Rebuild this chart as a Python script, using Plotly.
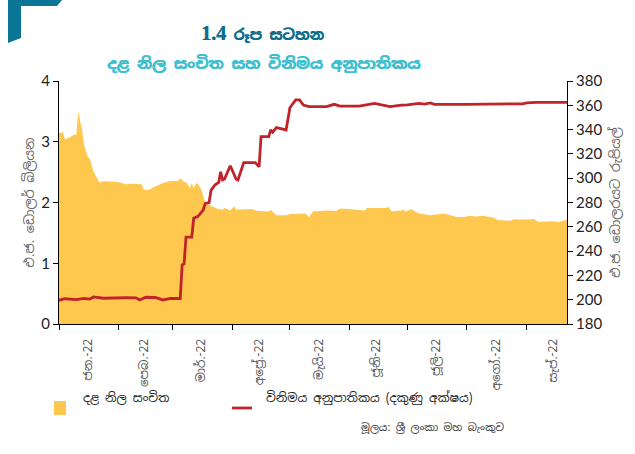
import plotly.graph_objects as go

# ---------------- data ----------------
reserve_dates = [
    "2022-01-01", "2022-01-03", "2022-01-04", "2022-01-07", "2022-01-09", "2022-01-10",
    "2022-01-11", "2022-01-13", "2022-01-14", "2022-01-16", "2022-01-17", "2022-01-19",
    "2022-01-20", "2022-01-22", "2022-01-24", "2022-01-27", "2022-01-31", "2022-02-05",
    "2022-02-08", "2022-02-13", "2022-02-14", "2022-02-17", "2022-02-19", "2022-02-24",
    "2022-02-27", "2022-03-04", "2022-03-05", "2022-03-06", "2022-03-07", "2022-03-08",
    "2022-03-10", "2022-03-11", "2022-03-12", "2022-03-13", "2022-03-14", "2022-03-16",
    "2022-03-17", "2022-03-18", "2022-03-20", "2022-03-22", "2022-03-24", "2022-03-27",
    "2022-03-28", "2022-03-31", "2022-04-02", "2022-04-03", "2022-04-07", "2022-04-12",
    "2022-04-14", "2022-04-20", "2022-04-21", "2022-04-24", "2022-04-29", "2022-05-01",
    "2022-05-09", "2022-05-11", "2022-05-13", "2022-05-17", "2022-05-20", "2022-05-25",
    "2022-05-27", "2022-06-02", "2022-06-09", "2022-06-10", "2022-06-20", "2022-06-21",
    "2022-06-23", "2022-06-28", "2022-06-29", "2022-06-30", "2022-07-03", "2022-07-07",
    "2022-07-09", "2022-07-13", "2022-07-20", "2022-07-27", "2022-07-31", "2022-08-02",
    "2022-08-06", "2022-08-09", "2022-08-15", "2022-08-17", "2022-08-24", "2022-08-25",
    "2022-08-31", "2022-09-05", "2022-09-07", "2022-09-14", "2022-09-18", "2022-09-22",
]
reserves = [
    3.14, 3.16, 3.04, 3.08, 3.12, 3.11,
    3.50, 3.19, 2.95, 2.75, 2.72, 2.51,
    2.45, 2.33, 2.35, 2.35, 2.34, 2.30,
    2.31, 2.30, 2.21, 2.21, 2.25, 2.32,
    2.35, 2.36, 2.40, 2.37, 2.33, 2.34,
    2.24, 2.32, 2.23, 2.30, 2.32, 2.21,
    2.10, 2.00, 1.96, 1.93, 1.90, 1.88,
    1.91, 1.87, 1.94, 1.88, 1.89, 1.89,
    1.86, 1.85, 1.88, 1.79, 1.79, 1.81,
    1.82, 1.76, 1.85, 1.86, 1.87, 1.86,
    1.90, 1.89, 1.87, 1.91, 1.91, 1.93,
    1.85, 1.87, 1.89, 1.85, 1.89, 1.82,
    1.81, 1.79, 1.82, 1.76, 1.76, 1.78,
    1.77, 1.78, 1.75, 1.71, 1.70, 1.72,
    1.72, 1.73, 1.68, 1.69, 1.68, 1.72,
]

rate_dates = [
    "2022-01-01", "2022-01-04", "2022-01-10", "2022-01-14", "2022-01-17", "2022-01-19",
    "2022-01-24", "2022-01-31", "2022-02-05", "2022-02-10", "2022-02-12", "2022-02-15",
    "2022-02-20", "2022-02-24", "2022-02-28", "2022-03-05", "2022-03-06", "2022-03-07",
    "2022-03-08", "2022-03-11", "2022-03-12", "2022-03-14", "2022-03-15", "2022-03-17",
    "2022-03-18", "2022-03-20", "2022-03-21", "2022-03-23", "2022-03-25", "2022-03-26",
    "2022-03-27", "2022-03-28", "2022-03-31", "2022-04-01", "2022-04-03", "2022-04-04",
    "2022-04-07", "2022-04-13", "2022-04-15", "2022-04-16", "2022-04-20", "2022-04-21",
    "2022-04-22", "2022-04-24", "2022-04-29", "2022-05-01", "2022-05-04", "2022-05-06",
    "2022-05-08", "2022-05-11", "2022-05-20", "2022-05-24", "2022-05-27", "2022-06-01",
    "2022-06-06", "2022-06-14", "2022-06-18", "2022-06-22", "2022-06-28", "2022-07-01",
    "2022-07-07", "2022-07-10", "2022-07-13", "2022-07-15", "2022-07-31", "2022-08-15",
    "2022-08-30", "2022-09-01", "2022-09-06", "2022-09-22",
]
rates = [
    199.5, 200.8, 200.0, 201.0, 200.5, 202.3,
    201.2, 201.6, 201.6, 201.5, 199.8, 202.0,
    201.8, 199.8, 201.0, 201.0, 228.6, 229.5,
    251.5, 251.6, 267.0, 268.5, 270.0, 274.0,
    279.3, 280.0, 290.0, 294.4, 296.5, 305.3,
    298.5, 299.3, 310.3, 306.7, 299.3, 298.5,
    312.8, 312.8, 309.5, 334.2, 334.2, 339.7,
    337.8, 341.6, 339.7, 358.0, 364.4, 364.4,
    360.2, 358.9, 358.9, 360.8, 359.4, 359.3,
    359.4, 361.6, 360.5, 359.0, 360.2, 360.4,
    361.6, 361.0, 362.0, 360.8, 360.8, 360.8,
    361.2, 362.0, 362.4, 362.4,
]

month_starts = ["2022-01-01", "2022-02-01", "2022-03-01", "2022-04-01", "2022-05-01",
                "2022-06-01", "2022-07-01", "2022-08-01", "2022-09-01"]
label_dates = ["2022-01-16", "2022-02-14", "2022-03-16", "2022-04-15", "2022-05-16",
               "2022-06-15", "2022-07-16", "2022-08-16", "2022-09-15"]
month_labels = ["ජන.-22", "පෙබ.-22", "මාර්.-22", "අප්‍රේ.-22", "මැයි-22",
                "ජූනි-22", "ජූලි-22", "අගෝ.-22", "සැප්.-22"]

legend_labels = ["දළ නිල සංචිත", "විනිමය අනුපාතිකය (දකුණු අක්ෂය)"]

# ---------------- layout geometry (pixels) ----------------
W, H = 635, 454
L, R, T, B = 59, 567, 81, 324


def px(x):
    return (x - L) / (R - L)


def py(y):
    return (B - y) / (B - T)


YELLOW = "#FEC84F"
RED = "#C1232B"
TEAL_DARK = "#0F6E8C"
TEAL_LIGHT = "#3DBFCF"
SIN = "Noto Sans Sinhala, Iskoola Pota, Noto Sans, DejaVu Sans, sans-serif"
NUM = "Lato, Open Sans, sans-serif"
SERIF = "Liberation Serif, DejaVu Serif, serif"

fig = go.Figure()
fig.add_trace(go.Scatter(
    x=reserve_dates, y=reserves, mode="lines", fill="tozeroy",
    line=dict(width=0, color=YELLOW), fillcolor=YELLOW,
    name=legend_labels[0], showlegend=False, hoverinfo="skip", yaxis="y"))
fig.add_trace(go.Scatter(
    x=rate_dates, y=rates, mode="lines", name=legend_labels[1],
    line=dict(color=RED, width=2.8), showlegend=False, yaxis="y2"))

fig.update_layout(
    width=W, height=H,
    margin=dict(l=L, r=W - R, t=T, b=H - B),
    paper_bgcolor="white", plot_bgcolor="white",
    font=dict(family=SIN, color="#333"),
    showlegend=False,
    xaxis=dict(
        type="date", range=["2022-01-01", "2022-09-22"], automargin=False,
        tickmode="array", tickvals=label_dates, ticktext=month_labels,
        ticks="", tickangle=-90, ticklabelstandoff=9,
        tickfont=dict(size=12, color="#555", family=SIN),
        showgrid=False, zeroline=False,
        showline=True, linecolor="black", linewidth=1,
        minor=dict(tickmode="array", tickvals=month_starts, ticks="outside",
                   ticklen=5, tickcolor="black", tickwidth=1, showgrid=False),
    ),
    yaxis=dict(
        range=[0, 4], dtick=1, tickmode="linear", tick0=0, automargin=False,
        ticks="outside", ticklen=5, tickcolor="black",
        showgrid=False, zeroline=False,
        showline=True, linecolor="black", linewidth=1,
        tickfont=dict(size=15, color="#222", family=NUM),
        title=dict(text="එ.ජ. ඩොලර් බිලියන", font=dict(size=13, color="#666", family=SIN),
                   standoff=3),
    ),
    yaxis2=dict(
        range=[180, 380], dtick=20, tickmode="linear", tick0=180, automargin=False,
        overlaying="y", side="right", anchor="x",
        ticks="outside", ticklen=5, tickcolor="black",
        showgrid=False, zeroline=False,
        showline=True, linecolor="black", linewidth=1,
        tickfont=dict(size=15, color="#222", family=NUM),
        title=dict(text="එ.ජ. ඩොලරයට රුපියල්", font=dict(size=13, color="#666", family=SIN),
                   standoff=9),
    ),
)

# title lines
fig.add_annotation(x=px(262), y=py(20), xref="paper", yref="paper",
                   text=f"<span style='font-family:{SERIF};font-size:20px'><b>1.4</b></span> <b>රූප සටහන</b>",
                   showarrow=False,
                   font=dict(size=15, color=TEAL_DARK, family=SIN,
                             shadow=f"0.4px 0 0 {TEAL_DARK}"))
fig.add_annotation(x=px(263), y=py(51), xref="paper", yref="paper",
                   text="<b>දළ නිල සංචිත සහ විනිමය අනුපාතිකය</b>", showarrow=False,
                   font=dict(size=15.5, color=TEAL_LIGHT, family=SIN,
                             shadow=f"0.6px 0 0 {TEAL_LIGHT}"))
# source
fig.add_annotation(x=px(506), y=py(436), xref="paper", yref="paper",
                   xanchor="right", text="මූලය: ශ්‍රී ලංකා මහ බැංකුව", showarrow=False,
                   font=dict(size=10.5, color="#333", family=SIN))

# legend (keys + labels)
fig.add_shape(type="rect", xref="paper", yref="paper",
              x0=px(54), x1=px(66), y0=py(415), y1=py(401),
              fillcolor=YELLOW, line=dict(width=0))
fig.add_annotation(x=px(81), y=py(408), xref="paper", yref="paper", xanchor="left",
                   text=legend_labels[0], showarrow=False,
                   font=dict(size=12, color="#222", family=SIN))
fig.add_shape(type="line", xref="paper", yref="paper",
              x0=px(232), x1=px(252), y0=py(408), y1=py(408),
              line=dict(color=RED, width=2.8))
fig.add_annotation(x=px(264), y=py(408), xref="paper", yref="paper", xanchor="left",
                   text=legend_labels[1], showarrow=False,
                   font=dict(size=12, color="#222", family=SIN))

# decorative corner bracket
pts = [(8, 0), (62, 0), (57, 6), (21, 6), (21, 38), (8, 43)]
path = "M " + " L ".join(f"{px(a):.5f},{py(b):.5f}" for a, b in pts) + " Z"
fig.add_shape(type="path", path=path, xref="paper", yref="paper",
              fillcolor="#0B7596", line=dict(width=0), layer="above")

fig.write_html("out.html", config={"displayModeBar": False},
               post_script="document.body.style.margin='0px';document.body.style.padding='0px';")
